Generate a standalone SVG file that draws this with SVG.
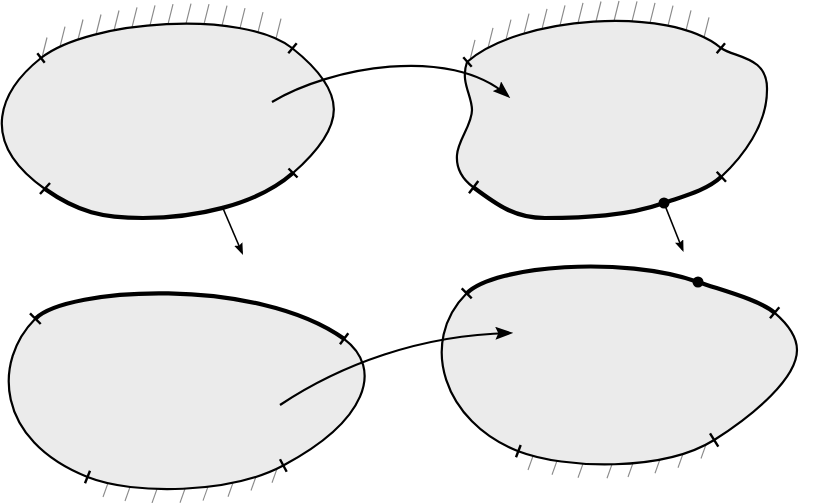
<svg xmlns="http://www.w3.org/2000/svg" width="830" height="503" viewBox="0 0 830 503">
<style>
.body{fill:#ebebeb;stroke:#000;stroke-width:2.2;stroke-linejoin:round}
.thick{fill:none;stroke:#000;stroke-width:4.2;stroke-linecap:butt}
.tick{stroke:#000;stroke-width:2.4}
.hatch{stroke:#8a8a8a;stroke-width:1.1}
.dot{fill:#000}
.arrow{fill:none;stroke:#000;stroke-width:2.2}
.arrow-s{fill:none;stroke:#000;stroke-width:1.6}
</style>
<defs>
<marker id="headL" markerUnits="userSpaceOnUse" markerWidth="18" markerHeight="13" refX="14" refY="6.5" orient="auto" viewBox="0 0 18 13">
<path d="M0,0 L18,6.5 L0,13 L3,6.5 Z" fill="#000"/>
</marker>
<marker id="headS" markerUnits="userSpaceOnUse" markerWidth="12" markerHeight="9" refX="9.5" refY="4.5" orient="auto" viewBox="0 0 12 9">
<path d="M0,0 L12,4.5 L0,9 L2,4.5 Z" fill="#000"/>
</marker>
</defs>

<g id="node-top-left">
<g class="hatch">
<line x1="42" y1="57.5" x2="47" y2="37.5"/>
<line x1="60" y1="46.7" x2="65" y2="26.7"/>
<line x1="78" y1="39.5" x2="83" y2="19.5"/>
<line x1="96" y1="34.5" x2="101" y2="14.5"/>
<line x1="114" y1="30.5" x2="119" y2="10.5"/>
<line x1="132" y1="27.4" x2="137" y2="7.4"/>
<line x1="150" y1="25.3" x2="155" y2="5.3"/>
<line x1="168" y1="24.2" x2="173" y2="4.2"/>
<line x1="186" y1="23.7" x2="191" y2="3.7"/>
<line x1="204" y1="24.2" x2="209" y2="4.2"/>
<line x1="222" y1="25.6" x2="227" y2="5.6"/>
<line x1="240" y1="28.1" x2="245" y2="8.1"/>
<line x1="258" y1="32.2" x2="263" y2="12.2"/>
<line x1="276" y1="38.6" x2="281" y2="18.6"/>
</g>
<path class="body" d="M41,58 C89.4,19.6 243.6,9.6 292,48 C348.2,92.6 347,125.5 293,173 C255.5,206 193,218 143,218 C103,218 77.8,212.2 45,189 C-24.7,139.7 2,89 41,58 Z"/>
<path class="thick" d="M293,173 C255.5,206 193,218 143,218 C103,218 77.8,212.2 45,189"/>
<g class="tick">
<line x1="37.3" y1="53.3" x2="44.7" y2="62.7"/>
<line x1="288.3" y1="53.3" x2="296.7" y2="43.3"/>
<line x1="40" y1="194" x2="50" y2="183"/>
<line x1="288.5" y1="168.5" x2="297.5" y2="177.5"/>
</g>
</g>

<g id="node-top-right">
<g class="hatch">
<line x1="470" y1="59.8" x2="475" y2="39.8"/>
<line x1="488" y1="47.8" x2="493" y2="27.8"/>
<line x1="506" y1="39.6" x2="511" y2="19.6"/>
<line x1="524" y1="33.6" x2="529" y2="13.6"/>
<line x1="542" y1="28.9" x2="547" y2="8.9"/>
<line x1="560" y1="25.4" x2="565" y2="5.4"/>
<line x1="578" y1="22.9" x2="583" y2="2.9"/>
<line x1="596" y1="21.5" x2="601" y2="1.5"/>
<line x1="614" y1="21" x2="619" y2="1"/>
<line x1="632" y1="21.4" x2="637" y2="1.4"/>
<line x1="650" y1="22.9" x2="655" y2="2.9"/>
<line x1="668" y1="25.7" x2="673" y2="5.7"/>
<line x1="686" y1="30.4" x2="691" y2="10.4"/>
<line x1="704" y1="37.4" x2="709" y2="17.4"/>
</g>
<path class="body" d="M467,62 C518,16.4 668.6,4.5 721,48 C735,58 768,56 767,90 C767,125 742.9,156.6 721,177 C706.4,190.6 682.8,196.4 664,203 C626.4,216.2 585,218 545,218 C515,218 497,205 473,187 C461,178 456,168 457,155 C458,140 472,125 472,110 C472,95 460,82 467,62 Z"/>
<path class="thick" d="M721,177 C706.4,190.6 682.8,196.4 664,203 C626.4,216.2 585,218 545,218 C515,218 497,205 473,187"/>
<g class="tick">
<line x1="463.3" y1="57.3" x2="471.7" y2="66.7"/>
<line x1="716.7" y1="53.3" x2="725" y2="43.3"/>
<line x1="716.7" y1="171.7" x2="726" y2="181.7"/>
<line x1="469" y1="193.3" x2="478.3" y2="181"/>
</g>
<circle class="dot" cx="664" cy="203" r="5.5"/>
</g>

<g id="node-bottom-left">
<g class="hatch">
<line x1="108" y1="483" x2="103" y2="497"/>
<line x1="130" y1="487" x2="125" y2="501"/>
<line x1="157" y1="489" x2="152" y2="503"/>
<line x1="185" y1="488.7" x2="180" y2="502.7"/>
<line x1="208" y1="486.6" x2="203" y2="500.6"/>
<line x1="233" y1="482.7" x2="228" y2="496.7"/>
<line x1="256" y1="476.5" x2="251" y2="490.5"/>
<line x1="277" y1="468.7" x2="272" y2="482.7"/>
</g>
<path class="body" d="M35.3,318.7 C66.8,287.2 256,276 344,338.8 C384,368.8 366.9,420.9 283.3,465.5 C230.5,493.7 134,495.5 87.5,477 C-5.5,440 -6.7,360.7 35.3,318.7 Z"/>
<path class="thick" d="M35.3,318.7 C66.8,287.2 256,276 344,338.8"/>
<g class="tick">
<line x1="30" y1="313.3" x2="40.7" y2="324"/>
<line x1="340" y1="344.3" x2="348.3" y2="333.3"/>
<line x1="280" y1="459.3" x2="286.7" y2="471.7"/>
<line x1="85" y1="483.3" x2="90" y2="470.7"/>
</g>
</g>

<g id="node-bottom-right">
<g class="hatch">
<line x1="533" y1="456" x2="528" y2="470"/>
<line x1="557" y1="460.8" x2="552" y2="474.8"/>
<line x1="583" y1="463.7" x2="578" y2="477.7"/>
<line x1="612" y1="464.3" x2="607" y2="478.3"/>
<line x1="633" y1="463" x2="628" y2="477"/>
<line x1="660" y1="459.3" x2="655" y2="473.3"/>
<line x1="683" y1="453.7" x2="678" y2="467.7"/>
<line x1="706" y1="444.5" x2="701" y2="458.5"/>
</g>
<path class="body" d="M466.7,293.3 C494.7,265.3 622.8,255.6 698,282 C721.5,290.25 759.5,299.8 774.7,312.8 C786.1,322.6 797,336 797,350 C797,378 755,414 714.2,440 C663.2,471.8 564.8,469.2 518.3,451.2 C443.9,422.4 417.7,342.3 466.7,293.3 Z"/>
<path class="thick" d="M466.7,293.3 C494.7,265.3 622.8,255.6 698,282 C721.5,290.25 759.5,299.8 774.7,312.8"/>
<g class="tick">
<line x1="461.7" y1="288.3" x2="471.7" y2="298.3"/>
<line x1="770" y1="318.3" x2="779.3" y2="307.3"/>
<line x1="710" y1="433.3" x2="718.3" y2="446.7"/>
<line x1="516" y1="457.3" x2="520.7" y2="445"/>
</g>
<circle class="dot" cx="698" cy="282" r="5.5"/>
</g>

<g id="connectors">
<path class="arrow" d="M272,102 C330,67 450,45 507.3,95.5" marker-end="url(#headL)"/>
<path class="arrow" d="M280,405 C340,365 420,335 509.3,333" marker-end="url(#headL)"/>
<path class="arrow-s" d="M222,206 L242,252.7" marker-end="url(#headS)"/>
<path class="arrow-s" d="M664,203 L682.6,249.8" marker-end="url(#headS)"/>
</g>
</svg>
